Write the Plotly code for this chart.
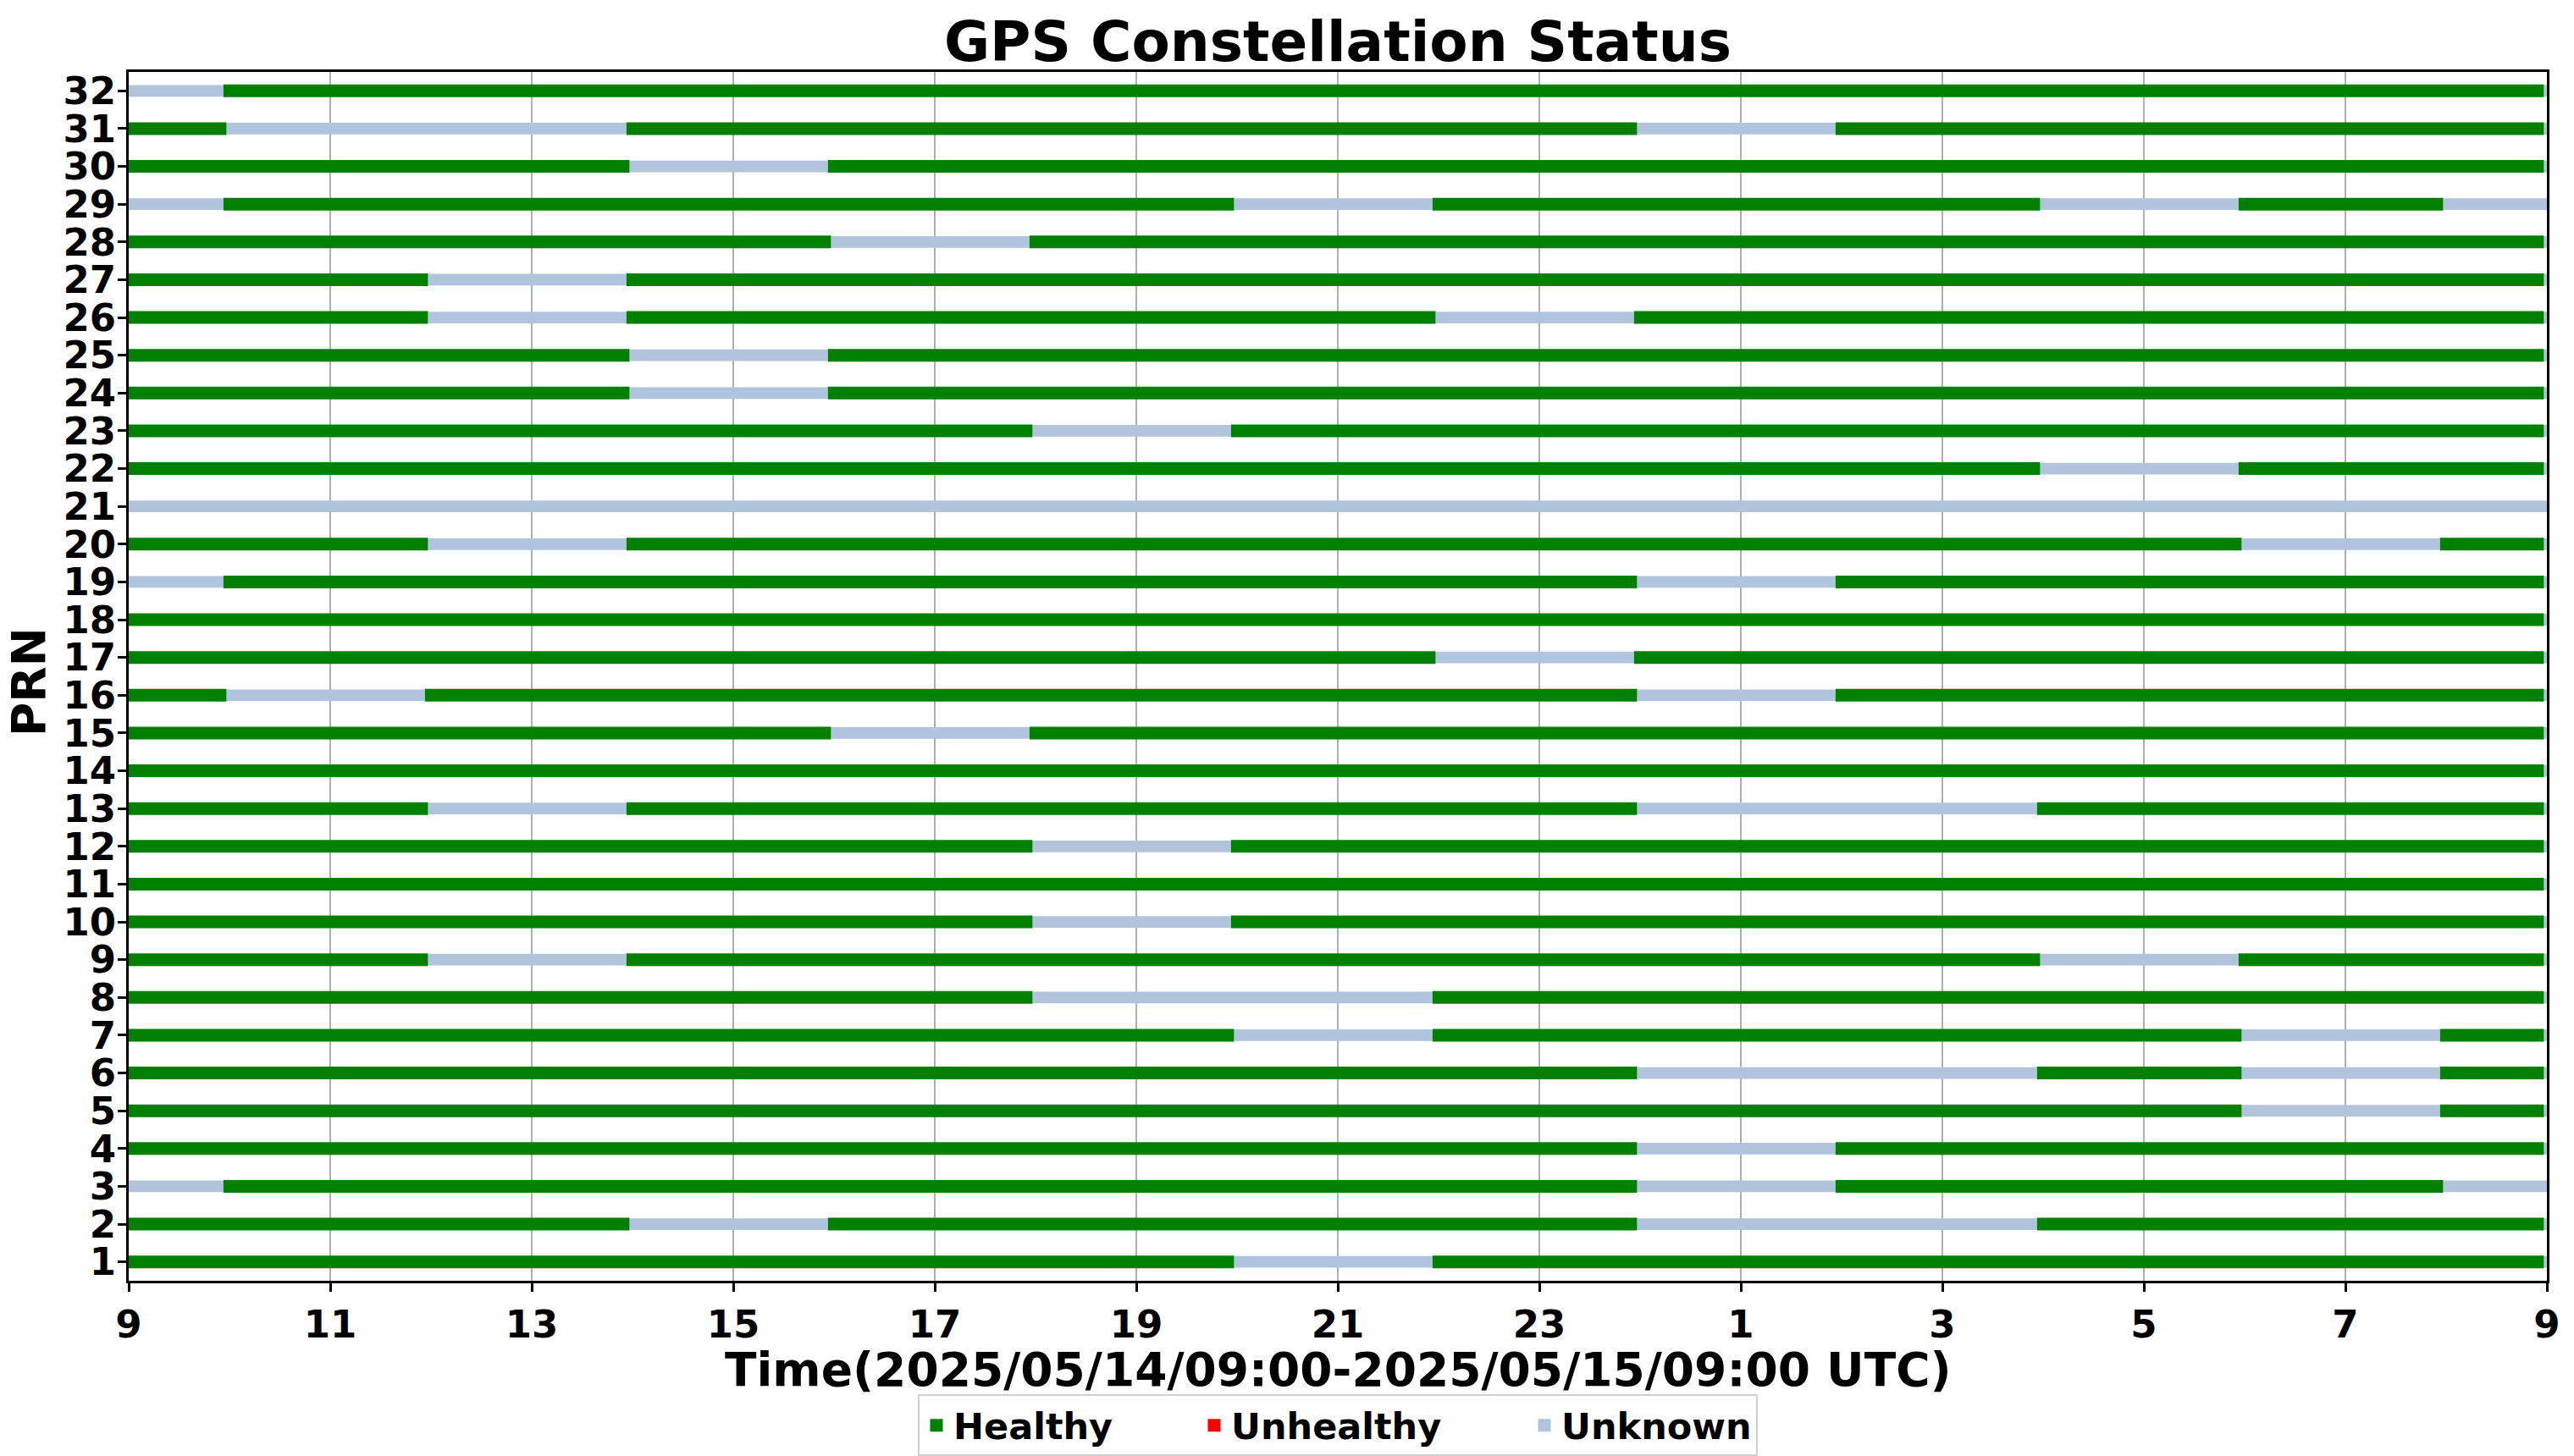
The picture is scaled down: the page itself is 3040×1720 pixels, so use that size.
import plotly.graph_objects as go

# ---------------- data (hours since 2025/05/14 09:00 UTC) ----------------
prn_list = list(range(1, 33))
x_tick_vals = [0, 2, 4, 6, 8, 10, 12, 14, 16, 18, 20, 22, 24]
x_tick_text = ["9", "11", "13", "15", "17", "19", "21", "23", "1", "3", "5", "7", "9"]
status_names = ["Healthy", "Unhealthy", "Unknown"]
status_colors = ["#008000", "#FF0000", "#B0C4DE"]
x_title = "Time(2025/05/14/09:00-2025/05/15/09:00 UTC)"
y_title = "PRN"
chart_title = "GPS Constellation Status"

# (PRN, start, end)
healthy_segments = [
    (32, 0.94, 23.97),
    (31, 0.00, 0.97), (31, 4.94, 14.97), (31, 16.94, 23.97),
    (30, 0.00, 4.97), (30, 6.94, 23.97),
    (29, 0.94, 10.97), (29, 12.94, 18.97), (29, 20.94, 22.97),
    (28, 0.00, 6.97), (28, 8.94, 23.97),
    (27, 0.00, 2.97), (27, 4.94, 23.97),
    (26, 0.00, 2.97), (26, 4.94, 12.97), (26, 14.94, 23.97),
    (25, 0.00, 4.97), (25, 6.94, 23.97),
    (24, 0.00, 4.97), (24, 6.94, 23.97),
    (23, 0.00, 8.97), (23, 10.94, 23.97),
    (22, 0.00, 18.97), (22, 20.94, 23.97),
    (20, 0.00, 2.97), (20, 4.94, 20.97), (20, 22.94, 23.97),
    (19, 0.94, 14.97), (19, 16.94, 23.97),
    (18, 0.00, 23.97),
    (17, 0.00, 12.97), (17, 14.94, 23.97),
    (16, 0.00, 0.97), (16, 2.94, 14.97), (16, 16.94, 23.97),
    (15, 0.00, 6.97), (15, 8.94, 23.97),
    (14, 0.00, 23.97),
    (13, 0.00, 2.97), (13, 4.94, 14.97), (13, 18.94, 23.97),
    (12, 0.00, 8.97), (12, 10.94, 23.97),
    (11, 0.00, 23.97),
    (10, 0.00, 8.97), (10, 10.94, 23.97),
    (9, 0.00, 2.97), (9, 4.94, 18.97), (9, 20.94, 23.97),
    (8, 0.00, 8.97), (8, 12.94, 23.97),
    (7, 0.00, 10.97), (7, 12.94, 20.97), (7, 22.94, 23.97),
    (6, 0.00, 14.97), (6, 18.94, 20.97), (6, 22.94, 23.97),
    (5, 0.00, 20.97), (5, 22.94, 23.97),
    (4, 0.00, 14.97), (4, 16.94, 23.97),
    (3, 0.94, 14.97), (3, 16.94, 22.97),
    (2, 0.00, 4.97), (2, 6.94, 14.97), (2, 18.94, 23.97),
    (1, 0.00, 10.97), (1, 12.94, 23.97),
]

unknown_segments = [
    (32, 0.00, 0.94), (32, 23.97, 24.00),
    (31, 0.97, 4.94), (31, 14.97, 16.94), (31, 23.97, 24.00),
    (30, 4.97, 6.94), (30, 23.97, 24.00),
    (29, 0.00, 0.94), (29, 10.97, 12.94), (29, 18.97, 20.94), (29, 22.97, 24.00),
    (28, 6.97, 8.94), (28, 23.97, 24.00),
    (27, 2.97, 4.94), (27, 23.97, 24.00),
    (26, 2.97, 4.94), (26, 12.97, 14.94), (26, 23.97, 24.00),
    (25, 4.97, 6.94), (25, 23.97, 24.00),
    (24, 4.97, 6.94), (24, 23.97, 24.00),
    (23, 8.97, 10.94), (23, 23.97, 24.00),
    (22, 18.97, 20.94), (22, 23.97, 24.00),
    (21, 0.00, 24.00),
    (20, 2.97, 4.94), (20, 20.97, 22.94), (20, 23.97, 24.00),
    (19, 0.00, 0.94), (19, 14.97, 16.94), (19, 23.97, 24.00),
    (18, 23.97, 24.00),
    (17, 12.97, 14.94), (17, 23.97, 24.00),
    (16, 0.97, 2.94), (16, 14.97, 16.94), (16, 23.97, 24.00),
    (15, 6.97, 8.94), (15, 23.97, 24.00),
    (14, 23.97, 24.00),
    (13, 2.97, 4.94), (13, 14.97, 18.94), (13, 23.97, 24.00),
    (12, 8.97, 10.94), (12, 23.97, 24.00),
    (11, 23.97, 24.00),
    (10, 8.97, 10.94), (10, 23.97, 24.00),
    (9, 2.97, 4.94), (9, 18.97, 20.94), (9, 23.97, 24.00),
    (8, 8.97, 12.94), (8, 23.97, 24.00),
    (7, 10.97, 12.94), (7, 20.97, 22.94), (7, 23.97, 24.00),
    (6, 14.97, 18.94), (6, 20.97, 22.94), (6, 23.97, 24.00),
    (5, 20.97, 22.94), (5, 23.97, 24.00),
    (4, 14.97, 16.94), (4, 23.97, 24.00),
    (3, 0.00, 0.94), (3, 14.97, 16.94), (3, 22.97, 24.00),
    (2, 4.97, 6.94), (2, 14.97, 18.94), (2, 23.97, 24.00),
    (1, 10.97, 12.94), (1, 23.97, 24.00),
]

unhealthy_segments = []

# ---------------- figure ----------------
FONT = "DejaVu Sans"
fig = go.Figure()

for segs, color, w in [
    (unknown_segments, status_colors[2], 0.31),
    (unhealthy_segments, status_colors[1], 0.335),
    (healthy_segments, status_colors[0], 0.335),
]:
    if not segs:
        continue
    fig.add_trace(go.Bar(
        orientation="h",
        y=[s[0] for s in segs],
        base=[s[1] for s in segs],
        x=[s[2] - s[1] for s in segs],
        width=w,
        marker=dict(color=color, line=dict(width=0)),
        showlegend=False,
        hoverinfo="skip",
    ))

# legend entries
legend_widths = [283, 345, 225]
for name, color, lw in zip(status_names, status_colors, legend_widths):
    fig.add_trace(go.Scatter(
        x=[None], y=[None], mode="markers", name=name,
        marker=dict(symbol="square", size=15, color=color),
        legendwidth=lw,
    ))

# the page body has an 8px default margin: size the figure to compensate
fig.update_layout(
    width=3032, height=1712,
    margin=dict(l=144, r=32, t=77, b=207, autoexpand=False),
    paper_bgcolor="white", plot_bgcolor="white",
    barmode="overlay",
    font=dict(family=FONT, color="black"),
    title=dict(
        text=chart_title,
        x=0.5, xref="paper", xanchor="center",
        y=1 - 41 / 1712, yref="container", yanchor="middle",
        font=dict(family=FONT, size=66, weight="bold", color="black"),
    ),
    legend=dict(
        orientation="h", x=0.5, xanchor="center",
        y=-0.094, yanchor="top",
        bordercolor="#d0d0d0", borderwidth=2,
        bgcolor="white",
        font=dict(family=FONT, size=43, weight="bold", color="black"),
        traceorder="normal",
    ),
    annotations=[
        dict(text=x_title, xref="paper", yref="paper", x=0.5, y=0,
             xanchor="center", yanchor="middle", yshift=-105, showarrow=False,
             font=dict(family=FONT, size=55, weight="bold", color="black")),
        dict(text=y_title, xref="paper", yref="paper", x=0, y=0.5,
             xanchor="center", yanchor="middle", xshift=-118, yshift=-7,
             textangle=-90, showarrow=False,
             font=dict(family=FONT, size=55, weight="bold", color="black")),
    ],
)

fig.update_xaxes(
    range=[0, 24], automargin=False,
    tickmode="array", tickvals=x_tick_vals, ticktext=x_tick_text,
    ticks="outside", ticklen=10, tickwidth=2.5, tickcolor="black",
    showline=True, linecolor="black", linewidth=3, mirror=True,
    showgrid=True, gridcolor="#b0b0b0", gridwidth=2,
    zeroline=False,
    tickfont=dict(family=FONT, size=45, weight="bold", color="black"),
)

fig.update_yaxes(
    range=[0.5, 32.5], automargin=False,
    tickmode="array", tickvals=prn_list, ticktext=[str(p) for p in prn_list],
    ticks="outside", ticklen=10, tickwidth=2.5, tickcolor="black",
    ticklabelstandoff=-7,
    showline=True, linecolor="black", linewidth=3, mirror=True,
    showgrid=False, zeroline=False,
    tickfont=dict(family=FONT, size=45, weight="bold", color="black"),
)

fig.write_html("out.html")
